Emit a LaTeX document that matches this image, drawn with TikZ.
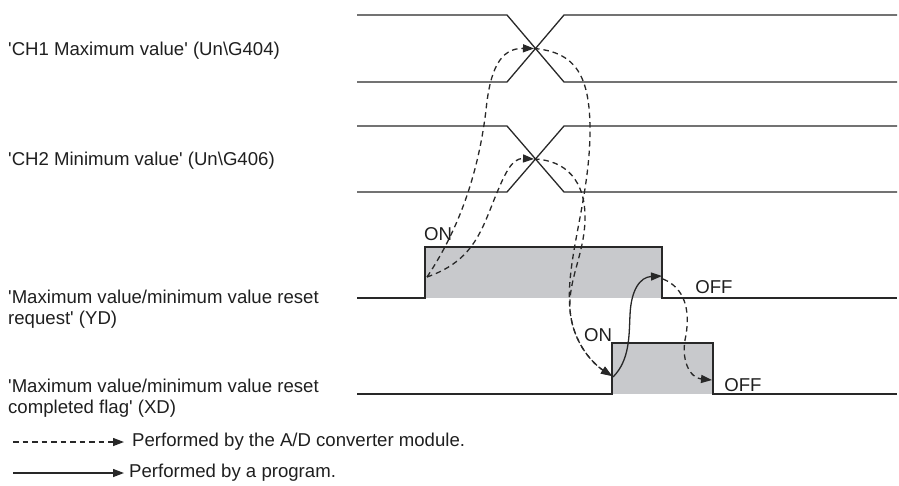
\documentclass[tikz,border=0pt]{standalone}
\usepackage{fontspec}
\setmainfont{Liberation Sans}
\usetikzlibrary{arrows.meta}
\definecolor{sigline}{RGB}{40,40,40}
\definecolor{pulsefill}{RGB}{200,201,204}
\newcommand{\sq}{\textquotesingle}
\begin{document}
\begin{tikzpicture}[x=1pt,y=-1pt,
  sig/.style={draw=sigline,line width=1.3pt,line join=miter},
  modarrow/.style={draw=sigline,line width=1.3pt,dash pattern=on 5.5pt off 4pt,-{Triangle[length=11pt,width=8pt]}},
  progarrow/.style={draw=sigline,line width=1.3pt,-{Triangle[length=11pt,width=8pt]}},
  lbl/.style={inner sep=0pt,font=\fontsize{18.6}{21}\selectfont,text=black!88},
  every node/.style={inner sep=0pt}]
\useasboundingbox (0,0) rectangle (899,485);
% pulses fill
\fill[pulsefill] (425,247) rectangle (662,298);
\fill[pulsefill] (612,343) rectangle (713,394);
% bus 1
\draw[sig] (357,15) -- (507,15) -- (564,82) -- (897,82);
\draw[sig] (357,82) -- (507,82) -- (564,15) -- (897,15);
% bus 2
\draw[sig] (357,126) -- (507,126) -- (564,192) -- (897,192);
\draw[sig] (357,192) -- (507,192) -- (564,126) -- (897,126);
% YD
\draw[sig] (357,298) -- (425,298) -- (425,247) -- (662,247) -- (662,298) -- (897,298);
% XD
\draw[sig] (357,394) -- (612,394) -- (612,343) -- (713,343) -- (713,394) -- (897,394);
% key points
\coordinate (c1) at (534,48.5);
\coordinate (c2) at (534,159);
\coordinate (ydr) at (427,277);
\coordinate (ydf) at (662,276);
\coordinate (ydfs) at (663,279);
\coordinate (xdr) at (612,376);
\coordinate (xdrs) at (613,377);
\coordinate (xdf) at (712,380);
% labels
\node[lbl,anchor=base west] (lch1) at (8,55) {\sq CH1 Maximum value\sq{} (Un\textbackslash G404)};
\node[lbl,anchor=base west] (lch2) at (8,165) {\sq CH2 Minimum value\sq{} (Un\textbackslash G406)};
\node[lbl,anchor=base west,align=left] (lyd) at (8,324) {\sq Maximum value/minimum value reset\\request\sq{} (YD)};
\node[lbl,anchor=base west,align=left] (lxd) at (8,413) {\sq Maximum value/minimum value reset\\completed flag\sq{} (XD)};
\node[lbl] (on1) at (438,234) {ON};
\node[lbl] (off1) at (714,287) {OFF};
\node[lbl] (on2) at (598,335) {ON};
\node[lbl] (off2) at (743,385) {OFF};
% dashed: module
\draw[modarrow] (ydr) .. controls (465,220) and (480,160) .. (486,110) .. controls (490,70) and (500,48) .. (c1);
\draw[modarrow] (ydr) .. controls (470,262) and (480,235) .. (492,205) .. controls (505,172) and (512,158) .. (c2);
\draw[modarrow] (c1) .. controls (575,52) and (590,75) .. (590,130) .. controls (590,200) and (565,260) .. (570,310) .. controls (573,345) and (595,365) .. (xdr);
\draw[modarrow] (c2) .. controls (565,160) and (586,180) .. (585,220) .. controls (584,255) and (568,280) .. (570,310) .. controls (573,345) and (595,365) .. (xdr);
\draw[progarrow] (xdrs) .. controls (630,360) and (629,335) .. (630,315) .. controls (631,290) and (640,277) .. (ydf);
\draw[modarrow] (ydfs) .. controls (685,288) and (690,310) .. (686,335) .. controls (680,360) and (690,378) .. (xdf);
% legend
\coordinate (l1a) at (13,442);
\coordinate (l1b) at (124,442);
\coordinate (l2a) at (13,473);
\coordinate (l2b) at (124,473);
\draw[modarrow] (l1a) -- (l1b);
\draw[progarrow] (l2a) -- (l2b);
\node[lbl,anchor=west] (t1) at (132,442) {Performed by the A/D converter module.};
\node[lbl,anchor=west] (t2) at (129,473) {Performed by a program.};
\end{tikzpicture}
\end{document}
